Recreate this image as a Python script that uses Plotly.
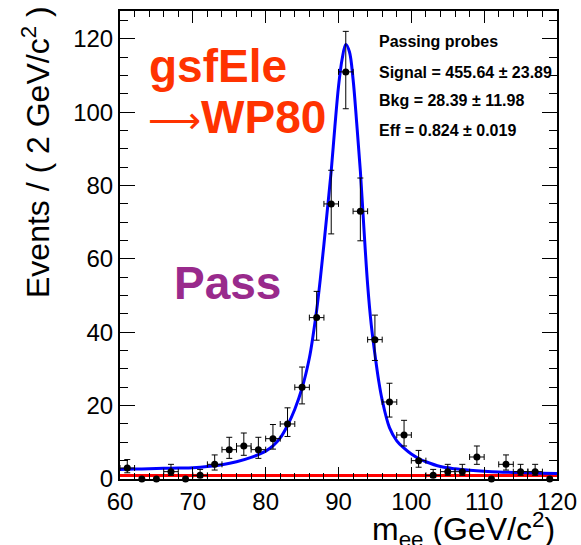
import math
import plotly.graph_objects as go

# ---- binned data: invariant mass of passing probes, 2 GeV bins ----
bin_centers = [61, 63, 65, 67, 69, 71, 73, 75, 77, 79, 81, 83, 85, 87, 89,
               91, 93, 95, 97, 99, 101, 103, 105, 107, 109, 111, 113, 115, 117, 119]
counts = [3, 0, 0, 2, 0, 1, 4, 8, 9, 8, 11, 15, 25, 44, 75,
          111, 73, 38, 21, 12, 5, 1, 2, 2, 6, 0, 4, 2, 2, 0]
bin_width = 2.0

# ---- fitted total model (signal + background), events / 2 GeV ----
fit_mass = [60, 62, 64, 66, 68, 70, 72, 74, 76, 78, 80, 81, 82, 83, 84, 85,
            86, 86.5, 87, 87.5, 88, 88.5, 89, 89.5, 90, 90.5, 91, 91.5, 92,
            92.5, 93, 93.5, 94, 94.5, 95, 95.5, 96, 97, 98, 99, 100, 101, 102,
            104, 106, 108, 110, 112, 114, 116, 118, 120]
fit_total = [2.6, 2.7, 2.8, 2.9, 3.0, 3.1, 3.4, 3.9, 4.7, 5.9, 7.6, 9.0, 11.2,
             14.6, 19.0, 24.8, 33.0, 39.0, 46.0, 54.5, 64.0, 74.0, 84.0, 96.0,
             107.0, 114.5, 118.5, 116.5, 109.0, 97.0, 84.0, 68.0, 53.0, 42.0,
             34.0, 27.0, 21.5, 14.0, 10.4, 8.4, 6.8, 5.6, 4.7, 3.4, 2.8, 2.4,
             2.1, 1.9, 1.8, 1.7, 1.6, 1.5]

# ---- fit summary ----
signal_yield, signal_err = 455.64, 23.89
bkg_yield, bkg_err = 28.39, 11.98
eff, eff_err = 0.824, 0.019

n_bins = len(bin_centers)
bkg_level = bkg_yield / n_bins          # flat background per bin
bkg_mass = [60, 120]
bkg_vals = [bkg_level, bkg_level]

# Poisson-like asymmetric errors for the non-empty bins
nz_x = [x for x, n in zip(bin_centers, counts) if n > 0]
nz_y = [n for n in counts if n > 0]
err_up = [0.5 + math.sqrt(n + 0.25) for n in nz_y]
err_dn = [math.sqrt(n + 0.25) - 0.5 for n in nz_y]
zero_x = [x for x, n in zip(bin_centers, counts) if n == 0]
zero_y = [0 for n in counts if n == 0]

FONT = "Liberation Sans, Arial, Helvetica, sans-serif"

fig = go.Figure()

fig.add_trace(go.Scatter(
    x=bkg_mass, y=bkg_vals, mode="lines",
    line=dict(color="#ff0000", width=3), hoverinfo="skip", showlegend=False))

fig.add_trace(go.Scatter(
    x=fit_mass, y=fit_total, mode="lines", line_shape="spline",
    line=dict(color="#0000ff", width=3), showlegend=False))

fig.add_trace(go.Scatter(
    x=nz_x, y=nz_y, mode="markers",
    marker=dict(color="black", size=7),
    error_y=dict(type="data", symmetric=False, array=err_up, arrayminus=err_dn,
                 color="black", thickness=1, width=3),
    error_x=dict(type="constant", value=bin_width / 2,
                 color="black", thickness=1, width=3),
    cliponaxis=False, showlegend=False))

fig.add_trace(go.Scatter(
    x=zero_x, y=zero_y, mode="markers",
    marker=dict(color="black", size=7),
    cliponaxis=False, showlegend=False))

axis_common = dict(
    showline=True, linecolor="black", linewidth=2, mirror="allticks",
    ticks="inside", tickcolor="black", tickwidth=1,
    showgrid=False, zeroline=False, automargin=False,
    tickfont=dict(family=FONT, size=24, color="black"),
)

fig.update_xaxes(range=[60, 120], dtick=10, tick0=60, ticklen=12,
                 minor=dict(dtick=2, ticklen=6, ticks="inside",
                            tickcolor="black", showgrid=False),
                 **axis_common)
fig.update_yaxes(range=[0, 127.6], dtick=20, tick0=0, ticklen=15,
                 minor=dict(dtick=5, ticklen=8, ticks="inside",
                            tickcolor="black", showgrid=False),
                 **axis_common)

L, R, T, B = 120, 24, 11, 66
W, H = 581, 545
pw, ph = W - L - R, H - T - B


def px(xp):
    return (xp - L) / pw


def py(yp):
    return (H - B - yp) / ph


annotations = [
    dict(text="Events / ( 2 GeV/c<sup>2</sup> )", textangle=-90,
         x=px(36), y=py(4), xanchor="center", yanchor="top",
         font=dict(family=FONT, size=32, color="black")),
    dict(text="m<sub>ee</sub> (GeV/c<sup>2</sup>)",
         x=1.0, y=py(529), xanchor="right", yanchor="middle",
         font=dict(family=FONT, size=32, color="black")),
    dict(text="<b>gsfEle</b>", x=px(147), y=py(66), xanchor="left",
         yanchor="middle", font=dict(family=FONT, size=46, color="#ff3300")),
    dict(text="<span style='font-family:DejaVu Sans;font-size:37px'>\u27f6</span><b>WP80</b>",
         x=px(146), y=py(117), xanchor="left",
         yanchor="middle", font=dict(family=FONT, size=46, color="#ff3300")),
    dict(text="<b>Pass</b>", x=px(172), y=py(283), xanchor="left",
         yanchor="middle", font=dict(family=FONT, size=46, color="#992a8c")),
    dict(text="<b>Passing probes</b>", x=px(377), y=py(42), xanchor="left",
         yanchor="middle", font=dict(family=FONT, size=16, color="black")),
    dict(text=f"<b>Signal = {signal_yield:.2f} \u00b1 {signal_err:.2f}</b>",
         x=px(377), y=py(72), xanchor="left", yanchor="middle",
         font=dict(family=FONT, size=16, color="black")),
    dict(text=f"<b>Bkg = {bkg_yield:.2f} \u00b1 {bkg_err:.2f}</b>",
         x=px(377), y=py(100), xanchor="left", yanchor="middle",
         font=dict(family=FONT, size=16, color="black")),
    dict(text=f"<b>Eff = {eff:.3f} \u00b1 {eff_err:.3f}</b>",
         x=px(377), y=py(130), xanchor="left", yanchor="middle",
         font=dict(family=FONT, size=16, color="black")),
]
for a in annotations:
    a.update(xref="paper", yref="paper", showarrow=False)

fig.update_layout(
    width=W, height=H,
    margin=dict(l=L, r=R, t=T, b=B, pad=0, autoexpand=False),
    paper_bgcolor="white", plot_bgcolor="white",
    annotations=annotations,
    showlegend=False,
)

fig.write_html("out.html")
